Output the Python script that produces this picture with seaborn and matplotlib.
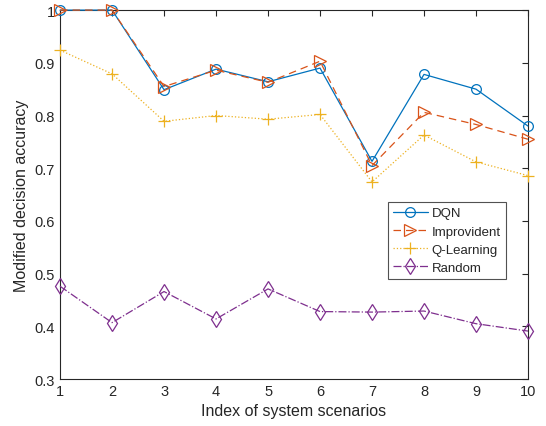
import matplotlib
matplotlib.use("Agg")
import matplotlib.pyplot as plt
import seaborn as sns
import pandas as pd

# ======= data ======= #
scenarios = [1, 2, 3, 4, 5, 6, 7, 8, 9, 10]
dqn = [1.0, 1.0, 0.849, 0.888, 0.864, 0.890, 0.713, 0.878, 0.850, 0.780]
improvident = [1.0, 1.0, 0.855, 0.886, 0.863, 0.903, 0.705, 0.806, 0.783, 0.755]
q_learning = [0.924, 0.879, 0.789, 0.800, 0.793, 0.802, 0.674, 0.763, 0.712, 0.686]
random_acc = [0.476, 0.407, 0.466, 0.414, 0.471, 0.428, 0.427, 0.429, 0.405, 0.391]

series = {
    "DQN": dqn,
    "Improvident": improvident,
    "Q-Learning": q_learning,
    "Random": random_acc,
}
styles = {
    "DQN": dict(color="#0072BD", ls="-", marker="o", ms=7),
    "Improvident": dict(color="#D95319", ls=(0, (6, 4)), marker=">", ms=8),
    "Q-Learning": dict(color="#EDB120", ls=":", marker="+", ms=8),
    "Random": dict(color="#7E2F8E", ls="-.", marker="d", ms=8),
}

sns.set_style("white")
plt.rcParams["font.family"] = ["Liberation Sans", "DejaVu Sans"]

fig = plt.figure(figsize=(5.46, 4.27), dpi=100)
ax = fig.add_axes([0.110, 0.110, 0.857, 0.864])

for name, vals in series.items():
    st = styles[name]
    df = pd.DataFrame({"x": scenarios, "y": vals})
    sns.lineplot(
        data=df, x="x", y="y", ax=ax,
        color=st["color"], linestyle=st["ls"], linewidth=0.9,
        marker=st["marker"], markersize=st["ms"],
        markerfacecolor="none", markeredgecolor=st["color"],
        markeredgewidth=0.9, label=name, clip_on=False, zorder=3,
    )

ax.set_xlim(1, 10)
ax.set_ylim(0.3, 1.0)
ax.set_xticks(scenarios)
ax.set_yticks([0.3, 0.4, 0.5, 0.6, 0.7, 0.8, 0.9, 1.0])
ax.set_yticklabels(["0.3", "0.4", "0.5", "0.6", "0.7", "0.8", "0.9", "1"])
ax.tick_params(direction="in", length=4, width=0.8, colors="#262626",
               labelsize=10.5, top=True, right=True,
               labeltop=False, labelright=False)
for sp in ax.spines.values():
    sp.set_color("#262626")
    sp.set_linewidth(0.8)

ax.set_xlabel("Index of system scenarios", fontsize=11.5, color="#262626")
ax.set_ylabel("Modified decision accuracy", fontsize=11.5, color="#262626")

leg = ax.legend(
    loc="upper right", bbox_to_anchor=(0.953, 0.48), borderaxespad=0,
    fontsize=9.5, frameon=True, fancybox=False, handlelength=2.6,
    labelspacing=0.45, borderpad=0.4, handletextpad=0.3,
)
leg.get_frame().set_edgecolor("#262626")
leg.get_frame().set_linewidth(0.8)

fig.savefig("out.png", dpi=100)
